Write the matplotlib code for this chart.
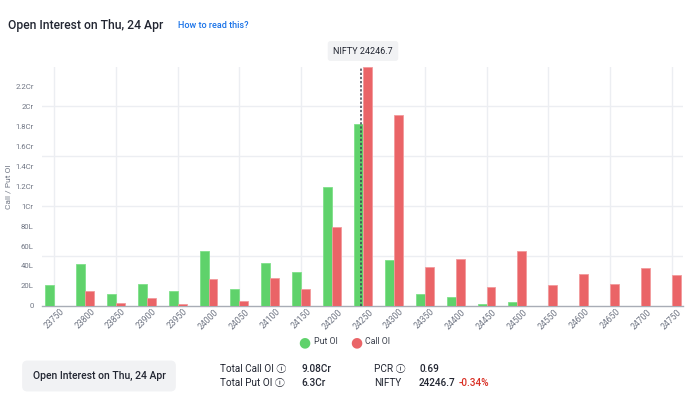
import numpy as np
import matplotlib
matplotlib.use("Agg")
import matplotlib.pyplot as plt

plt.rcParams['font.family'] = ['Roboto', 'Noto Sans CJK SC', 'DejaVu Sans']

# strikes and open interest (in lakhs)
strikes = [23750, 23800, 23850, 23900, 23950, 24000, 24050, 24100, 24150, 24200,
           24250, 24300, 24350, 24400, 24450, 24500, 24550, 24600, 24650, 24700, 24750]
put_oi = [20.7, 42, 11.7, 22.3, 14.7, 54.7, 17.3, 42.7, 34.3, 119,
          182, 45.7, 12, 9.3, 2, 4, 0, 0, 0, 0, 0]
call_oi = [0.5, 14.7, 2.7, 8, 2, 27, 5.3, 27.7, 16.7, 79.3,
           239, 190.7, 39.3, 46.7, 19, 55, 21.3, 31.7, 22, 38.3, 30.7]
spot = 24246.7
ytick_vals = [0, 20, 40, 60, 80, 100, 120, 140, 160, 180, 200, 220]
ytick_labels = ['0', '20L', '40L', '60L', '80L', '1Cr', '1.2Cr', '1.4Cr',
                '1.6Cr', '1.8Cr', '2Cr', '2.2Cr']
grid_vals = [50, 100, 150, 200]

GREEN = '#5fd26b'
RED = '#ea6467'
GRAY = '#707684'
DARK = '#222632'

fig = plt.figure(figsize=(6.9, 3.95), dpi=100)
ax = fig.add_axes([42 / 690, 1 - 306 / 395, 641 / 690, 239 / 395])

x = np.arange(len(strikes))
w = 0.29
ax.bar(x - w / 2, put_oi, w, color=GREEN, edgecolor='#7fe08a', linewidth=0.6, zorder=3)
ax.bar(x + w / 2, call_oi, w, color=RED, edgecolor='#f29a9c', linewidth=0.6, zorder=3)

# grid: every 50L across, every other strike down
for g in grid_vals:
    ax.axhline(g, color='#eceef2', linewidth=1, zorder=0)
for xv in x[::2]:
    ax.axvline(xv, color='#eceef2', linewidth=1, zorder=0)

# spot marker between strikes
spot_x = np.interp(spot, strikes, x)
ax.axvline(spot_x, color='#3d4250', linestyle=(0, (1.5, 1.2)), linewidth=1.1, zorder=4)

ax.set_xlim(-0.39, 20.36)
ax.set_ylim(0, 239)

ax.set_xticks(x)
ax.set_xticklabels([str(s) for s in strikes], rotation=45, fontsize=6.2, color=GRAY)
ax.set_yticks(ytick_vals)
ax.set_yticklabels(ytick_labels, fontsize=5.6, color=GRAY)
ax.tick_params(which='both', length=0)
ax.tick_params(axis='x', pad=1)
ax.tick_params(axis='y', pad=6)
for side in ['left', 'right', 'top']:
    ax.spines[side].set_visible(False)
ax.spines['bottom'].set_color('#a8adb6')
ax.spines['bottom'].set_linewidth(1)
ax.set_ylabel('Call / Put OI', fontsize=6, color=GRAY)
ax.yaxis.set_label_coords(-0.048, 0.5)

# header
fig.text(8 / 690, 1 - 26 / 395, 'Open Interest on Thu, 24 Apr', fontsize=8.7,
         color=DARK, fontweight='medium', va='center')
fig.text(178 / 690, 1 - 26 / 395, 'How to read this?', fontsize=6.5,
         color='#1a73e8', fontweight='medium', va='center')
fig.text(363 / 690, 1 - 51 / 395, 'NIFTY 24246.7', fontsize=6.5, color=DARK,
         ha='center', va='center',
         bbox=dict(boxstyle='round,pad=0.6,rounding_size=0.3', facecolor='#f1f2f4',
                   edgecolor='none'))

# legend
fig.text(304 / 690, 1 - 342 / 395, '\u25cf', fontsize=10, color=GREEN, ha='center', va='center',
         family='DejaVu Sans')
fig.text(314 / 690, 1 - 342 / 395, 'Put OI', fontsize=6.3, color='#3b404c', va='center')
fig.text(356 / 690, 1 - 342 / 395, '\u25cf', fontsize=10, color=RED, ha='center', va='center',
         family='DejaVu Sans')
fig.text(365 / 690, 1 - 342 / 395, 'Call OI', fontsize=6.3, color='#3b404c', va='center')

# footer
fig.text(99 / 690, 1 - 376 / 395, 'Open Interest on Thu, 24 Apr', fontsize=7.5,
         color=DARK, ha='center', va='center', fontweight='medium',
         bbox=dict(boxstyle='round,pad=1.0,rounding_size=0.5', facecolor='#f1f2f4',
                   edgecolor='none'))
fs = 7.2
fig.text(220 / 690, 1 - 369 / 395, 'Total Call OI \u24d8', fontsize=fs, color=DARK, va='center')
fig.text(220 / 690, 1 - 383 / 395, 'Total Put OI \u24d8', fontsize=fs, color=DARK, va='center')
fig.text(301 / 690, 1 - 369 / 395, '9.08Cr', fontsize=fs, color=DARK, va='center', fontweight='medium')
fig.text(301 / 690, 1 - 383 / 395, '6.3Cr', fontsize=fs, color=DARK, va='center', fontweight='medium')
fig.text(374 / 690, 1 - 369 / 395, 'PCR \u24d8', fontsize=fs, color=DARK, va='center')
fig.text(374 / 690, 1 - 383 / 395, 'NIFTY', fontsize=fs, color=DARK, va='center')
fig.text(419 / 690, 1 - 369 / 395, '0.69', fontsize=fs, color=DARK, va='center', fontweight='medium')
fig.text(419 / 690, 1 - 383 / 395, '24246.7', fontsize=fs, color=DARK, va='center', fontweight='medium')
fig.text(459 / 690, 1 - 383 / 395, '-0.34%', fontsize=fs, color='#d93025', va='center', fontweight='medium')

fig.savefig('out.png', dpi=100, facecolor='white')
